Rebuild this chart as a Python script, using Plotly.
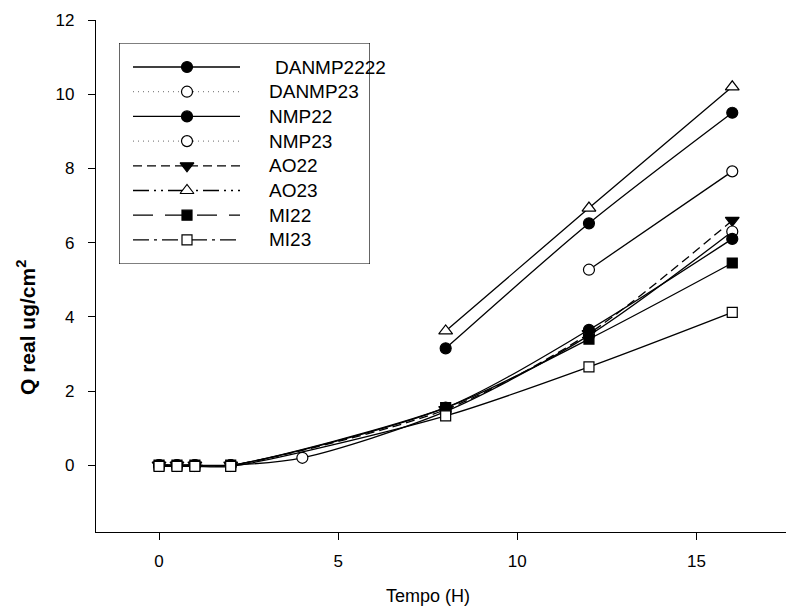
import plotly.graph_objects as go

# ---- data ----
names = ["DANMP2222", "DANMP23", "NMP22", "NMP23", "AO22", "AO23", "MI22", "MI23"]

danmp2222_x = [8, 12, 16]
danmp2222_y = [3.15, 6.52, 9.5]

danmp23_x = [12, 16]
danmp23_y = [5.27, 7.92]

nmp22_x = [0, 0.5, 1, 2, 8, 12, 16]
nmp22_y = [0, 0, 0, 0, 1.55, 3.65, 6.1]

nmp23_x = [0, 0.5, 1, 2, 4, 8, 12, 16]
nmp23_y = [0, 0, 0, 0, 0.2, 1.45, 3.5, 6.3]

ao22_x = [0, 0.5, 1, 2, 8, 12, 16]
ao22_y = [0, 0, 0, 0, 1.5, 3.55, 6.6]

ao23_x = [8, 12, 16]
ao23_y = [3.62, 6.93, 10.2]

mi22_x = [0, 0.5, 1, 2, 8, 12, 16]
mi22_y = [0, 0, 0, 0, 1.55, 3.4, 5.45]

mi23_x = [0, 0.5, 1, 2, 8, 12, 16]
mi23_y = [-0.03, -0.03, -0.03, -0.03, 1.33, 2.65, 4.12]

x_ticks = [0, 5, 10, 15]
y_ticks = [0, 2, 4, 6, 8, 10, 12]

# ---- styles ----
styles = {
    "DANMP2222": dict(symbol="circle", fill="black", dash="solid", plotdash="solid"),
    "DANMP23": dict(symbol="circle", fill="white", dash="1px,4px", plotdash="solid"),
    "NMP22": dict(symbol="circle", fill="black", dash="solid", plotdash="solid"),
    "NMP23": dict(symbol="circle", fill="white", dash="1px,4px", plotdash="solid"),
    "AO22": dict(symbol="triangle-down", fill="black", dash="9px,5px", plotdash="9px,5px"),
    "AO23": dict(symbol="triangle-up", fill="white", dash="16px,5px,2px,5px,2px,5px", plotdash="solid"),
    "MI22": dict(symbol="square", fill="black", dash="20px,12px", plotdash="solid"),
    "MI23": dict(symbol="square", fill="white", dash="16px,5px,3px,5px", plotdash="solid"),
}
msize = {"circle": 11, "triangle-down": 12, "triangle-up": 12, "square": 10}

series = [
    ("AO22", ao22_x, ao22_y),
    ("NMP23", nmp23_x, nmp23_y),
    ("NMP22", nmp22_x, nmp22_y),
    ("MI22", mi22_x, mi22_y),
    ("MI23", mi23_x, mi23_y),
    ("DANMP23", danmp23_x, danmp23_y),
    ("DANMP2222", danmp2222_x, danmp2222_y),
    ("AO23", ao23_x, ao23_y),
]

FONT = "Liberation Sans, Arial"

fig = go.Figure()
for nm, xs, ys in series:
    st = styles[nm]
    fig.add_trace(go.Scatter(
        x=xs, y=ys, mode="lines+markers", name=nm, showlegend=False,
        line=dict(color="black", width=1.3, dash=st["plotdash"], shape="spline", smoothing=0.8),
        marker=dict(symbol=st["symbol"], size=msize[st["symbol"]], color=st["fill"],
                    line=dict(color="black", width=1.2)),
    ))

# ---- hand-made legend on helper axes (pixel-like units) ----
row0, rowstep = 67, 24.7
for i, nm in enumerate(names):
    st = styles[nm]
    yy = row0 + i * rowstep
    fig.add_trace(go.Scatter(
        x=[133, 240], y=[yy, yy], mode="lines", xaxis="x2", yaxis="y2", showlegend=False,
        line=dict(color="black" if st["dash"] != "1px,4px" else "#888", width=1.3, dash=st["dash"]),
        hoverinfo="skip"))
    fig.add_trace(go.Scatter(
        x=[187], y=[yy], mode="markers", xaxis="x2", yaxis="y2", showlegend=False,
        marker=dict(symbol=st["symbol"], size=msize[st["symbol"]], color=st["fill"],
                    line=dict(color="black", width=1.2)),
        hoverinfo="skip"))
    fig.add_annotation(x=273 if i == 0 else 267, y=yy, xref="x2", yref="y2", text=nm,
                       showarrow=False, xanchor="left", yanchor="middle",
                       font=dict(family=FONT, size=19, color="black"))

fig.add_shape(type="rect", xref="x2", yref="y2", x0=119, x1=370, y0=43, y1=264,
              line=dict(color="black", width=1.2), fillcolor="rgba(0,0,0,0)", layer="below")

W, H = 790, 616
L, R, T, B = 96, 4, 20, 84
pw, ph = W - L - R, H - T - B

# axis titles as annotations (placed like the reference)
fig.add_annotation(text="Tempo (H)", xref="paper", yref="paper",
                   x=(428 - L) / pw, y=(H - B - 596) / ph, showarrow=False,
                   xanchor="center", yanchor="middle",
                   font=dict(family=FONT, size=18, color="black"))
fig.add_annotation(text="<b>Q real ug/cm<sup>2</sup></b>", xref="paper", yref="paper",
                   x=(26 - L) / pw, y=(H - B - 328) / ph, showarrow=False, textangle=-90,
                   xanchor="center", yanchor="middle",
                   font=dict(family=FONT, size=21, color="black"))

fig.update_layout(
    width=W, height=H,
    margin=dict(l=L, r=R, t=T, b=B),
    plot_bgcolor="white", paper_bgcolor="white",
    font=dict(family=FONT, size=17, color="black"),
    showlegend=False,
    xaxis=dict(range=[-1.76, 17.5], tickvals=x_ticks, showline=True, linecolor="black", linewidth=1.3,
               ticks="outside", ticklen=7, tickcolor="black", showgrid=False, zeroline=False,
               tickfont=dict(size=17), ticklabelstandoff=6),
    yaxis=dict(range=[-1.8, 12], tickvals=y_ticks, showline=True, linecolor="black", linewidth=1.3,
               ticks="outside", ticklen=7, tickcolor="black", showgrid=False, zeroline=False,
               tickfont=dict(size=17), ticklabelstandoff=10),
    xaxis2=dict(domain=[(119 - L) / pw, (370 - L) / pw], range=[119, 370], visible=False,
                anchor="y2", fixedrange=True),
    yaxis2=dict(domain=[(H - B - 264) / ph, (H - B - 43) / ph], range=[264, 43], visible=False,
                anchor="x2", fixedrange=True),
)

fig.write_html("out.html")
